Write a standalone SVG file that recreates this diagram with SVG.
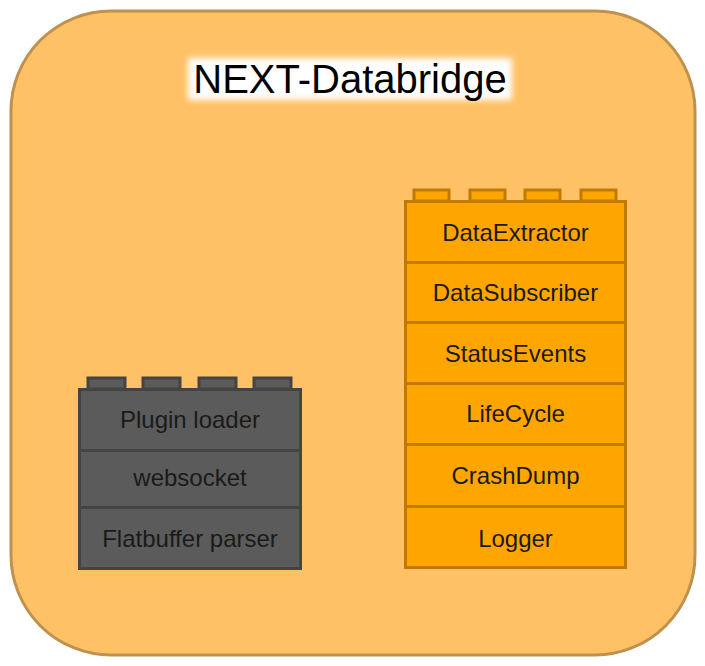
<svg xmlns="http://www.w3.org/2000/svg" width="705" height="666" viewBox="0 0 705 666">
<style>
.lbl{font-family:"Liberation Sans",Arial,sans-serif;font-size:24px;fill:#1a1a1a;text-anchor:middle;dominant-baseline:central}
.or{fill:#ffa500;stroke:#c07a00;stroke-width:3}
.gr{fill:#5b5b5b;stroke:#444444;stroke-width:3}
</style>
<defs>
<filter id="glow" x="-20%" y="-50%" width="140%" height="200%"><feGaussianBlur stdDeviation="3"/></filter>
</defs>
<g id="container">
<rect x="11" y="11" width="684" height="644" rx="100" ry="100" fill="#ffc166" stroke="#c0914d" stroke-width="3"/>
<rect x="188" y="58" width="324" height="42" fill="#ffffff" filter="url(#glow)"/>
<text x="350" y="79" font-family="'Liberation Sans',Arial,sans-serif" font-size="40" fill="#000" text-anchor="middle" dominant-baseline="central">NEXT-Databridge</text>
</g>
<g id="orange-stack">
<rect class="or" x="414" y="190" width="35" height="11"/>
<rect class="or" x="470" y="190" width="35" height="11"/>
<rect class="or" x="525" y="190" width="35" height="11"/>
<rect class="or" x="581" y="190" width="35" height="11"/>
<g id="DataExtractor"><rect class="or" x="405.5" y="201.5" width="220" height="61"/><text class="lbl" x="515.5" y="232">DataExtractor</text></g>
<g id="DataSubscriber"><rect class="or" x="405.5" y="262.5" width="220" height="60"/><text class="lbl" x="515.5" y="292">DataSubscriber</text></g>
<g id="StatusEvents"><rect class="or" x="405.5" y="322.5" width="220" height="61"/><text class="lbl" x="515.5" y="353">StatusEvents</text></g>
<g id="LifeCycle"><rect class="or" x="405.5" y="383.5" width="220" height="61"/><text class="lbl" x="515.5" y="413">LifeCycle</text></g>
<g id="CrashDump"><rect class="or" x="405.5" y="444.5" width="220" height="62"/><text class="lbl" x="515.5" y="475">CrashDump</text></g>
<g id="Logger"><rect class="or" x="405.5" y="506.5" width="220" height="61"/><text class="lbl" x="515.5" y="538">Logger</text></g>
</g>
<g id="gray-stack">
<rect class="gr" x="88" y="378" width="37" height="11"/>
<rect class="gr" x="143" y="378" width="37" height="11"/>
<rect class="gr" x="199" y="378" width="37" height="11"/>
<rect class="gr" x="254" y="378" width="37" height="11"/>
<g id="PluginLoader"><rect class="gr" x="79.5" y="389.5" width="221" height="61"/><text class="lbl" x="190" y="419">Plugin loader</text></g>
<g id="websocket"><rect class="gr" x="79.5" y="450.5" width="221" height="57"/><text class="lbl" x="190" y="477">websocket</text></g>
<g id="FlatbufferParser"><rect class="gr" x="79.5" y="507.5" width="221" height="61"/><text class="lbl" x="190" y="538">Flatbuffer parser</text></g>
</g>
<g id="connectors"></g>
</svg>
